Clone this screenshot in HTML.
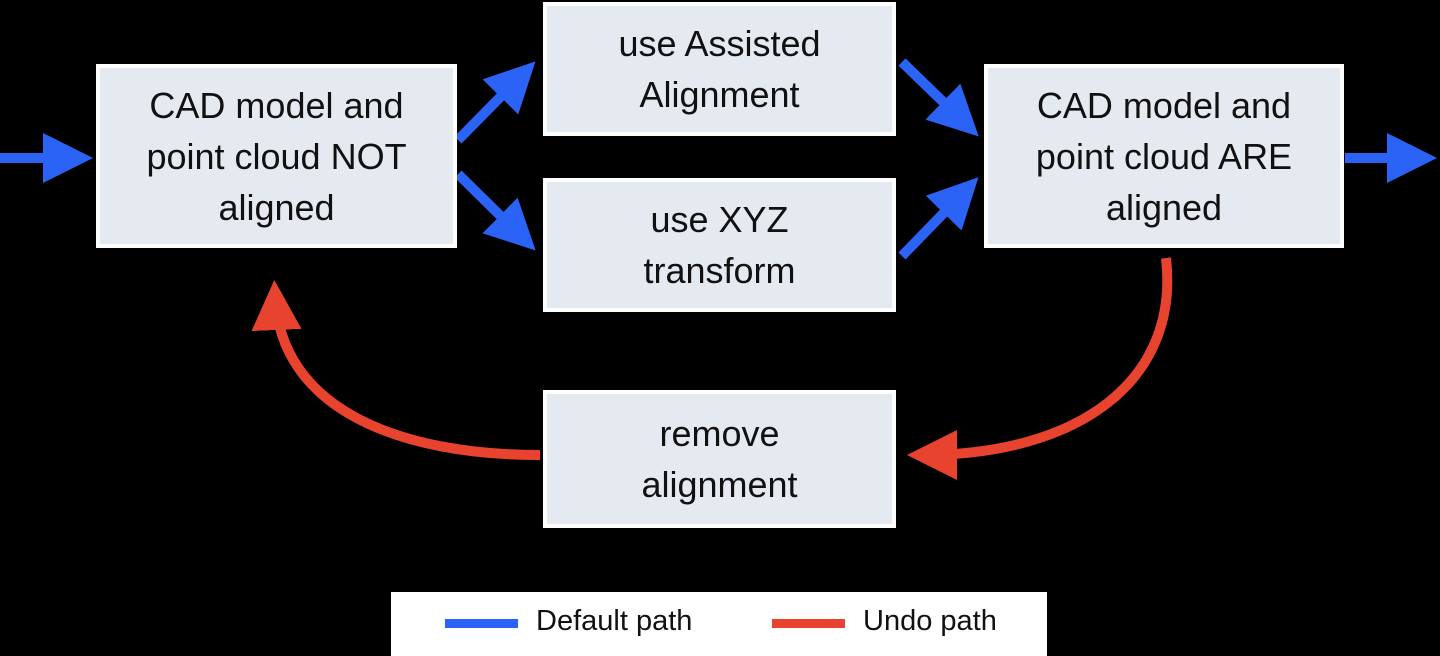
<!DOCTYPE html>
<html><head><style>
body{margin:0;width:1440px;height:656px;background:#000;overflow:hidden;position:relative;font-family:"Liberation Sans",sans-serif}
.b{position:absolute;box-sizing:border-box;background:#e5e9f0;border:4px solid #fff;display:flex;align-items:center;justify-content:center;text-align:center;font-size:36px;line-height:51px;color:#111}
.leg{position:absolute;left:391px;top:592px;width:656px;height:64px;background:#fff;font-size:29px;color:#111}
</style></head><body>
<svg width="1440" height="656" style="position:absolute;left:0;top:0">
<defs>
<marker id="ab" markerWidth="5" markerHeight="5" refX="3.5" refY="2.5" orient="auto" markerUnits="strokeWidth"><path d="M0,0 L5,2.5 L0,5 Z" fill="#2a63f6"/></marker>
<marker id="ar" markerWidth="5" markerHeight="5" refX="3.5" refY="2.5" orient="auto" markerUnits="strokeWidth"><path d="M0,0 L5,2.5 L0,5 Z" fill="#e8432e"/></marker>
</defs>
<g stroke="#2a63f6" stroke-width="10" fill="none" marker-end="url(#ab)">
<line x1="0" y1="158" x2="78" y2="158"/>
<line x1="1345" y1="158" x2="1422" y2="158"/>
<line x1="458" y1="140" x2="525" y2="72"/>
<line x1="458" y1="174" x2="525" y2="240"/>
<line x1="902" y1="62" x2="968" y2="126"/>
<line x1="902" y1="256" x2="968" y2="188"/>
</g>
<g stroke="#e8432e" stroke-width="10" fill="none" marker-end="url(#ar)">
<path d="M1166,258 C1180,380 1080,455 922,455"/>
<path d="M540,455 C400,455 280,410 275,295"/>
</g>
</svg>
<div class="b" style="left:96px;top:64px;width:361px;height:184px">CAD model and<br>point cloud NOT<br>aligned</div>
<div class="b" style="left:543px;top:2px;width:353px;height:134px">use Assisted<br>Alignment</div>
<div class="b" style="left:543px;top:178px;width:353px;height:134px">use XYZ<br>transform</div>
<div class="b" style="left:984px;top:64px;width:360px;height:184px">CAD model and<br>point cloud ARE<br>aligned</div>
<div class="b" style="left:543px;top:390px;width:353px;height:138px">remove<br>alignment</div>
<div class="leg">
<div style="position:absolute;left:54px;top:27px;width:73px;height:9px;background:#2a63f6"></div>
<div style="position:absolute;left:145px;top:13px">Default path</div>
<div style="position:absolute;left:381px;top:27px;width:73px;height:9px;background:#e8432e"></div>
<div style="position:absolute;left:472px;top:13px">Undo path</div>
</div>
</body></html>
